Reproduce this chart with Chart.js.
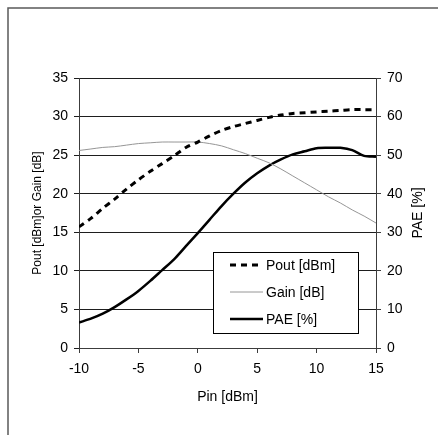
<!DOCTYPE html>
<html>
<head>
<meta charset="utf-8">
<script src="https://cdn.jsdelivr.net/npm/chart.js@4/dist/chart.umd.min.js"></script>
<style>
  html, body { margin: 0; padding: 0; background: #fff; }
  #wrap { width: 438px; height: 435px; position: relative; }
</style>
</head>
<body>
<div id="wrap"><canvas id="paechart"></canvas></div>
<script>
// Pin sweep (x axis) and the three measured curves
const pinDbm = [-10, -9, -8, -7, -6, -5, -4, -3, -2, -1, 0, 1, 2, 3, 4, 5, 6, 7, 8, 9, 10, 11, 12, 13, 14, 15];
const poutDbm = [15.7, 16.8, 18.1, 19.3, 20.6, 21.8, 22.9, 23.9, 24.9, 26.0, 26.7, 27.5, 28.2, 28.7, 29.1, 29.5, 29.9, 30.2, 30.4, 30.5, 30.6, 30.7, 30.8, 30.9, 30.9, 30.9];
const gainDb = [25.6, 25.8, 26.0, 26.1, 26.3, 26.5, 26.6, 26.7, 26.7, 26.7, 26.7, 26.5, 26.2, 25.7, 25.2, 24.6, 24.0, 23.2, 22.3, 21.4, 20.5, 19.6, 18.8, 17.9, 17.1, 16.2];
const paePct = [6.6, 7.6, 8.9, 10.6, 12.6, 14.8, 17.4, 20.2, 23.0, 26.4, 29.8, 33.3, 36.8, 40.0, 42.9, 45.3, 47.3, 48.9, 50.2, 51.0, 51.8, 51.9, 51.9, 51.3, 49.8, 49.6];

const seriesLabels = ["Pout [dBm]", "Gain [dB]", "PAE [%]"];
const leftTitle = "Pout [dBm]or Gain [dB]";
const rightTitle = "PAE [%]";
const bottomTitle = "Pin [dBm]";

function chartColors() {
  return {
    black: "rgba(0, 0, 0, 1)",
    gain: "rgba(150, 150, 150, 1)",
    grid: "rgba(30, 30, 30, 1)",
    axis: "rgba(60, 60, 60, 1)",
    frame: "rgba(90, 90, 90, 1)",
    text: "rgba(0, 0, 0, 1)",
    white: "rgba(255, 255, 255, 1)",
  };
}

const fontFamily = "'Liberation Sans', Arial, sans-serif";

// outer frame of the excel chart object (only top/left visible)
const outerFrame = {
  id: "outerFrame",
  beforeDraw: (chart) => {
    const ctx = chart.ctx;
    ctx.save();
    ctx.fillStyle = "#fff";
    ctx.fillRect(0, 0, chart.width, chart.height);
    ctx.strokeStyle = chartColors().frame;
    ctx.lineWidth = 1.5;
    ctx.strokeRect(8, 8, chart.width + 20, chart.height + 20);
    ctx.restore();
  },
};

// right axis title reads bottom-to-top like the left one
const rightAxisTitle = {
  id: "rightAxisTitle",
  afterDraw: (chart) => {
    const ctx = chart.ctx;
    const area = chart.chartArea;
    ctx.save();
    ctx.translate(418, (area.top + area.bottom) / 2);
    ctx.rotate(-Math.PI / 2);
    ctx.font = "14px " + fontFamily;
    ctx.fillStyle = chartColors().text;
    ctx.textAlign = "center";
    ctx.textBaseline = "middle";
    ctx.fillText(rightTitle, 0, 0);
    ctx.restore();
  },
};

// boxed legend sitting inside the plot area
const boxedLegend = {
  id: "boxedLegend",
  afterDraw: (chart) => {
    const ctx = chart.ctx;
    const x0 = 213, y0 = 252, w = 145, h = 81;
    ctx.save();
    ctx.fillStyle = chartColors().white;
    ctx.fillRect(x0, y0, w, h);
    ctx.strokeStyle = chartColors().black;
    ctx.lineWidth = 1;
    ctx.strokeRect(x0 + 0.5, y0 + 0.5, w, h);
    const rows = [265, 292, 319];
    chart.data.datasets.forEach((ds, i) => {
      ctx.beginPath();
      ctx.setLineDash(ds.borderDash || []);
      ctx.lineWidth = ds.borderWidth;
      ctx.strokeStyle = ds.borderColor;
      ctx.moveTo(230, rows[i]);
      ctx.lineTo(263, rows[i]);
      ctx.stroke();
      ctx.setLineDash([]);
      ctx.font = "14px " + fontFamily;
      ctx.fillStyle = chartColors().text;
      ctx.textAlign = "left";
      ctx.textBaseline = "middle";
      ctx.fillText(ds.label, 266, rows[i] + 1);
    });
    ctx.restore();
  },
};

function toPoints(xs, ys) {
  return xs.map((x, i) => ({ x: x, y: ys[i] }));
}

function baseConfig() {
  const colors = chartColors();
  const tickFont = { family: fontFamily, size: 14 };
  return {
    type: "line",
    options: {
      animation: false,
      responsive: true,
      maintainAspectRatio: false,
      devicePixelRatio: 1,
      layout: {
        padding: { left: 26, right: 0, top: 78, bottom: 25 },
      },
      elements: {
        point: { radius: 0 },
        line: { tension: 0.3, fill: false },
      },
      plugins: {
        legend: { display: false },
        tooltip: { enabled: false },
      },
      scales: {
        x: {
          type: "linear",
          position: "bottom",
          min: -10,
          max: 15,
          afterFit: (scale) => { scale.height = 62; },
          grid: {
            drawOnChartArea: false,
            drawTicks: true,
            tickLength: 5,
            color: colors.axis,
          },
          border: { display: true, color: colors.axis, width: 1 },
          ticks: { stepSize: 5, color: colors.text, font: tickFont, padding: 8 },
          title: {
            display: true,
            text: bottomTitle,
            color: colors.text,
            font: tickFont,
            padding: { top: 4, bottom: 4 },
          },
        },
        y: {
          position: "left",
          min: 0,
          max: 35,
          afterFit: (scale) => { scale.width = 53; },
          grid: {
            drawTicks: true,
            tickLength: 5,
            color: colors.grid,
          },
          border: { display: true, color: colors.axis, width: 1 },
          ticks: { stepSize: 5, color: colors.text, font: tickFont, padding: 6 },
          title: {
            display: true,
            text: leftTitle,
            color: colors.text,
            font: { family: fontFamily, size: 12 },
            padding: { top: 4, bottom: 4 },
          },
        },
        y2: {
          position: "right",
          min: 0,
          max: 70,
          afterFit: (scale) => { scale.width = 62; },
          grid: {
            drawOnChartArea: false,
            drawTicks: true,
            tickLength: 5,
            color: colors.axis,
          },
          border: { display: true, color: colors.axis, width: 1 },
          ticks: { stepSize: 10, color: colors.text, font: tickFont, padding: 6 },
        },
      },
    },
    plugins: [outerFrame, rightAxisTitle, boxedLegend],
  };
}

const colors = chartColors();
const paeData = {
  datasets: [
    {
      label: seriesLabels[0],
      data: toPoints(pinDbm, poutDbm),
      yAxisID: "y",
      borderColor: colors.black,
      borderWidth: 3,
      borderDash: [6, 5],
    },
    {
      label: seriesLabels[1],
      data: toPoints(pinDbm, gainDb),
      yAxisID: "y",
      borderColor: colors.gain,
      borderWidth: 1,
    },
    {
      label: seriesLabels[2],
      data: toPoints(pinDbm, paePct),
      yAxisID: "y2",
      borderColor: colors.black,
      borderWidth: 2.5,
    },
  ],
};

const paeConfig = baseConfig();
paeConfig.data = paeData;

new Chart(document.getElementById("paechart"), paeConfig);
</script>
</body>
</html>
